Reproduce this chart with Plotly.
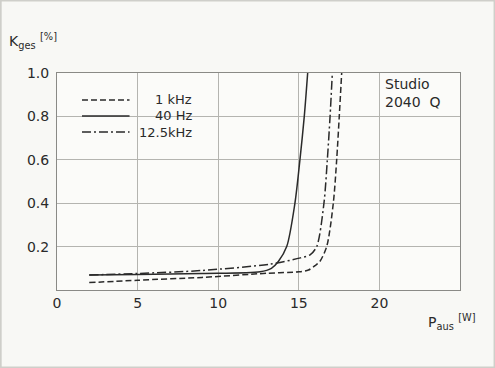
import plotly.graph_objects as go

# output power P_aus [W] vs. total distortion K_ges [%]
x_1khz = [2, 5, 9, 13, 15, 15.6, 16.0, 16.3, 16.73, 17.14, 17.35, 17.51, 17.66]
y_1khz = [0.034, 0.045, 0.058, 0.077, 0.084, 0.092, 0.112, 0.131, 0.2, 0.4, 0.6, 0.8, 1.0]

x_40hz = [2, 5, 9, 12.6, 13.3, 13.73, 14.25, 14.76, 15.07, 15.34, 15.55]
y_40hz = [0.069, 0.071, 0.076, 0.084, 0.10, 0.131, 0.2, 0.4, 0.6, 0.8, 1.0]

x_12k5 = [2, 5, 9, 13.2, 15.1, 15.7, 16.11, 16.56, 16.77, 16.94, 17.08]
y_12k5 = [0.069, 0.076, 0.09, 0.119, 0.148, 0.162, 0.2, 0.4, 0.6, 0.8, 1.0]

x_ticks = [0, 5, 10, 15, 20]
y_ticks = [0.2, 0.4, 0.6, 0.8, 1.0]

INK = "#2a2a2a"
GRID = "#b4b4b0"
FONT = "DejaVu Sans"

fig = go.Figure()
series = [
    ("1 kHz", x_1khz, y_1khz, "6px,3px"),
    ("40 Hz", x_40hz, y_40hz, "solid"),
    ("12.5kHz", x_12k5, y_12k5, "9px,3px,2px,3px"),
]
for name, xs, ys, dash in series:
    fig.add_trace(go.Scatter(
        x=xs, y=ys, mode="lines", name=name,
        line=dict(color=INK, width=1.5, dash=dash, shape="spline", smoothing=0.8),
        showlegend=False,
    ))

# hand-drawn style legend: short line sample + right aligned label
leg_y = [0.876, 0.802, 0.728]
for (name, _, _, dash), ly in zip(series, leg_y):
    fig.add_shape(type="line", x0=1.55, x1=4.5, y0=ly, y1=ly,
                  line=dict(color=INK, width=1.5, dash=dash))
    fig.add_annotation(x=8.5, y=ly, text=name, showarrow=False,
                       xanchor="right", yanchor="middle",
                       font=dict(size=13, color=INK))

fig.add_annotation(x=20.25, y=0.91, text="Studio<br>2040  Q", showarrow=False,
                   xanchor="left", yanchor="middle", align="left",
                   font=dict(size=14, color=INK))

fig.add_annotation(xref="paper", yref="paper", x=-0.125, y=1.09,
                   text="K<sub>ges</sub> <sup>[%]</sup>", showarrow=False,
                   xanchor="left", yanchor="bottom", font=dict(size=14, color=INK))
fig.add_annotation(xref="paper", yref="paper", x=0.915, y=-0.09,
                   text="P<sub>aus</sub> <sup>[W]</sup>", showarrow=False,
                   xanchor="left", yanchor="top", font=dict(size=14, color=INK))

# faint scan border
fig.add_shape(type="rect", xref="paper", yref="paper",
              x0=-0.141, x1=1.087, y0=-0.359, y1=1.336,
              line=dict(color="#cfcfca", width=3))

fig.update_layout(
    width=495, height=368,
    margin=dict(l=57, r=35, t=73, b=78),
    paper_bgcolor="#f8f8f5",
    plot_bgcolor="#fbfbf9",
    font=dict(family=FONT, size=14, color=INK),
)
fig.update_xaxes(range=[0, 25], tickvals=x_ticks, ticktext=[str(v) for v in x_ticks],
                 showgrid=True, gridcolor=GRID, gridwidth=1, zeroline=False,
                 showline=True, linecolor="#8a8a86", linewidth=1, mirror=True,
                 ticks="", ticklabelstandoff=0)
fig.update_yaxes(range=[0, 1.0], tickvals=y_ticks, ticktext=[f"{v:.1f}" for v in y_ticks],
                 showgrid=True, gridcolor=GRID, gridwidth=1, zeroline=False,
                 showline=True, linecolor="#8a8a86", linewidth=1, mirror=True,
                 ticks="", ticklabelstandoff=4)

fig.write_html("out.html", config={"displayModeBar": False},
               post_script="document.body.style.margin='0';")
